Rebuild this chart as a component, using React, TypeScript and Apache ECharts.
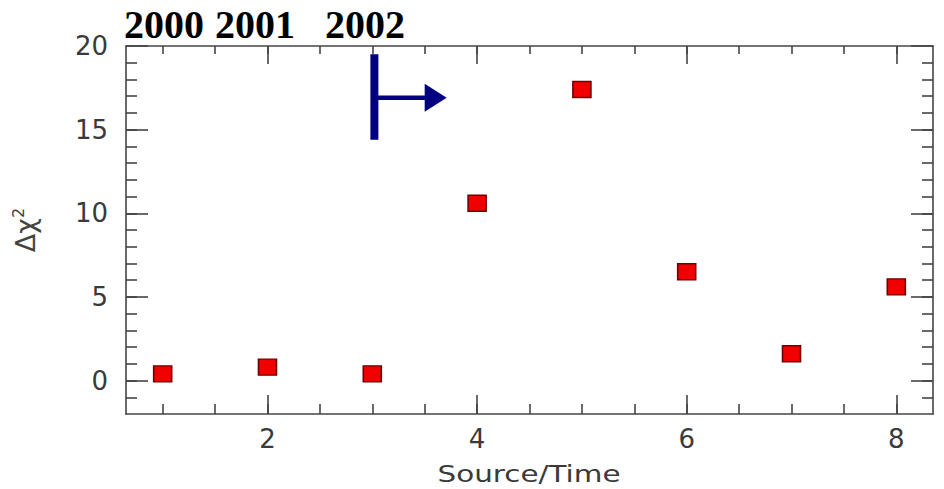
import React, { useEffect, useRef } from "react";
import * as echarts from "echarts";

// Δχ² per source/time bin
const sources = [1, 2, 3, 4, 5, 6, 7, 8];
const deltaChi2 = [0.4, 0.8, 0.4, 10.6, 17.4, 6.5, 1.6, 5.6];

// axis ranges and tick positions
const xRange = [0.65, 8.35];
const yRange = [-2, 20];
const xMajorTicks = [2, 4, 6, 8];
const xMinorTicks = [1, 1.5, 2, 2.5, 3, 3.5, 4, 4.5, 5, 5.5, 6, 6.5, 7, 7.5, 8];
const yMajorTicks = [0, 5, 10, 15, 20];
const yMinorTicks = [-1, 0, 1, 2, 3, 4, 5, 6, 7, 8, 9, 10, 11, 12, 13, 14, 15, 16, 17, 18, 19];

// epoch labels above the frame
const years = ["2000", "2001", "2002"];

const AXIS_COLOR = "#454545";
const LABEL_FONT = "'DejaVu Sans', sans-serif";

function xAxisCfg(position: "top" | "bottom", ticks: number[], len: number, main: boolean) {
  return {
    type: "value",
    position,
    min: xRange[0],
    max: xRange[1],
    splitLine: { show: false },
    axisLine: { show: main, onZero: false, lineStyle: { color: AXIS_COLOR, width: 1.6 } },
    axisTick: {
      show: true,
      inside: true,
      length: len,
      customValues: ticks,
      lineStyle: { color: AXIS_COLOR, width: 1.6 },
    },
    axisLabel: {
      show: main && position === "bottom",
      customValues: xMajorTicks,
      margin: 12,
      fontSize: 26,
      fontFamily: LABEL_FONT,
      color: "#3a3a3a",
    },
  };
}

function yAxisCfg(position: "left" | "right", ticks: number[], len: number, main: boolean) {
  const cfg: any = {
    type: "value",
    position,
    min: yRange[0],
    max: yRange[1],
    splitLine: { show: false },
    axisLine: { show: main, onZero: false, lineStyle: { color: AXIS_COLOR, width: 1.6 } },
    axisTick: {
      show: true,
      inside: true,
      length: len,
      customValues: ticks,
      lineStyle: { color: AXIS_COLOR, width: 1.6 },
    },
    axisLabel: {
      show: main && position === "left",
      customValues: yMajorTicks,
      margin: 18,
      fontSize: 26,
      fontFamily: LABEL_FONT,
      color: "#3a3a3a",
    },
  };
  if (main && position === "left") {
    cfg.name = "{a|Δχ}{b|2}";
    cfg.nameLocation = "middle";
    cfg.nameRotate = 90;
    cfg.nameGap = 86;
    cfg.nameTextStyle = {
      fontSize: 27,
      fontFamily: LABEL_FONT,
      color: "#444",
      rich: {
        a: { fontSize: 27, fontFamily: LABEL_FONT, color: "#444", lineHeight: 30 },
        b: { fontSize: 16, fontFamily: LABEL_FONT, color: "#444", verticalAlign: "top", lineHeight: 30 },
      },
    };
  }
  return cfg;
}

export default function App() {
  const ref = useRef<HTMLDivElement>(null);

  useEffect(() => {
    if (!ref.current) return;
    document.body.style.margin = "0";
    const chart = echarts.init(ref.current, null, { renderer: "svg" });

    chart.setOption({
      animation: false,
      backgroundColor: "#ffffff",
      grid: { left: 126, right: 11, top: 46, bottom: 75, containLabel: false },
      xAxis: [
        xAxisCfg("bottom", xMajorTicks, 19, true),
        xAxisCfg("bottom", xMinorTicks, 10, false),
        xAxisCfg("top", xMajorTicks, 18, true),
        xAxisCfg("top", xMinorTicks, 8, false),
      ],
      yAxis: [
        yAxisCfg("left", yMajorTicks, 22, true),
        yAxisCfg("left", yMinorTicks, 11, false),
        yAxisCfg("right", yMajorTicks, 22, true),
        yAxisCfg("right", yMinorTicks, 11, false),
      ],
      series: [
        {
          type: "scatter",
          xAxisIndex: 0,
          yAxisIndex: 0,
          symbol: "rect",
          symbolSize: [18, 16],
          itemStyle: { color: "#f00000", borderColor: "#700000", borderWidth: 1.5, opacity: 1 },
          data: sources.map((s, i) => [s, deltaChi2[i]]),
        },
      ],
    });

    // arrow marking the start of the 2002 epoch, anchored in data space
    const px = (x: number, y: number) =>
      chart.convertToPixel({ xAxisIndex: 0, yAxisIndex: 0 }, [x, y]) as number[];
    const barTop = px(3.02, 19.5);
    const barBot = px(3.02, 14.4);
    const shaftY = px(3.02, 16.9)[1];
    const headBase = px(3.5, 16.9)[0];
    const headTip = px(3.71, 16.9)[0];
    const NAVY = "#000080";

    const yearX = [124, 215, 325];

    chart.setOption({
      graphic: [
        {
          type: "line",
          shape: { x1: barTop[0], y1: barTop[1], x2: barBot[0], y2: barBot[1] },
          style: { stroke: NAVY, lineWidth: 8 },
        },
        {
          type: "line",
          shape: { x1: barTop[0], y1: shaftY, x2: headBase + 1, y2: shaftY },
          style: { stroke: NAVY, lineWidth: 4.5 },
        },
        {
          type: "polygon",
          shape: {
            points: [
              [headBase, shaftY - 14],
              [headTip, shaftY],
              [headBase, shaftY + 14],
            ],
          },
          style: { fill: NAVY },
        },
        ...years.map((yr, i) => ({
          type: "text",
          x: yearX[i],
          y: 24,
          style: {
            text: yr,
            font: "bold 40px 'Liberation Serif', 'Times New Roman', serif",
            fill: "#000",
            textAlign: "left",
            textVerticalAlign: "middle",
          },
        })),
        {
          type: "text",
          x: 529,
          y: 474,
          scaleX: 1.28,
          style: {
            text: "Source/Time",
            font: "23px 'DejaVu Sans', sans-serif",
            fill: "#3a3a3a",
            textAlign: "center",
            textVerticalAlign: "middle",
          },
        },
      ],
    });

    return () => chart.dispose();
  }, []);

  return <div ref={ref} style={{ width: 944, height: 489 }} />;
}
